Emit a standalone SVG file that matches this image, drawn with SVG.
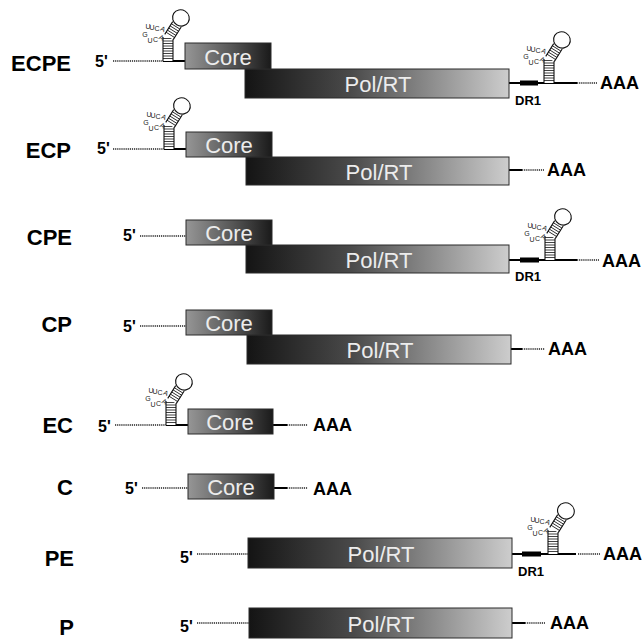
<svg xmlns="http://www.w3.org/2000/svg" xmlns:xlink="http://www.w3.org/1999/xlink" width="644" height="640" viewBox="0 0 644 640">
  <style>
    .lbl { font-family: "Liberation Sans", Arial, sans-serif; font-weight: bold; font-size: 22px; fill: #000; text-anchor: end; }
    .five { font-family: "Liberation Sans", Arial, sans-serif; font-weight: bold; font-size: 16px; fill: #000; }
    .aaa { font-family: "Liberation Sans", Arial, sans-serif; font-weight: bold; font-size: 18px; fill: #000; }
    .dr1 { font-family: "Liberation Sans", Arial, sans-serif; font-weight: bold; font-size: 13px; fill: #000; }
    .boxtxt { font-family: "Liberation Sans", Arial, sans-serif; font-size: 22px; fill: #ececec; text-anchor: middle; }
    .core { fill: url(#gCore); stroke: #2a2a2a; stroke-width: 1; }
    .pol { fill: url(#gPol); stroke: #2a2a2a; stroke-width: 1; }
    .solid { stroke: #000; stroke-width: 2; fill: none; }
    .dots { stroke: #222; stroke-width: 1.6; stroke-dasharray: 1.2 0.9; fill: none; }
    .drbox { fill: #000; }
    .rail { stroke: #111; stroke-width: 1.1; fill: none; }
    .rung { stroke: #111; stroke-width: 0.8; fill: none; }
    .nt { font-family: "Liberation Sans", Arial, sans-serif; font-size: 7px; fill: #222; text-anchor: middle; }
  </style>
  <defs>
    <linearGradient id="gCore" x1="0" y1="0" x2="1" y2="0">
      <stop offset="0" stop-color="#969696"/>
      <stop offset="0.55" stop-color="#555"/>
      <stop offset="1" stop-color="#1a1a1a"/>
    </linearGradient>
    <linearGradient id="gPol" x1="0" y1="0" x2="1" y2="0">
      <stop offset="0" stop-color="#141414"/>
      <stop offset="0.4" stop-color="#4a4a4a"/>
      <stop offset="1" stop-color="#cdcdcd"/>
    </linearGradient>
    <!-- encapsidation stem-loop; origin = left foot of the stem on the RNA line -->
    <g id="eps">
      <rect x="0" y="-24" width="10" height="24" fill="#fff"/>
      <path class="rung" d="M0,-2.5h10M0,-5h10M0,-7.5h10M0,-10h10M0,-12.5h10M0,-15h10M0,-17.5h10M0,-20h10M0,-22.5h10"/>
      <path class="rail" d="M0,0V-24M10,0V-24"/>
      <g transform="translate(6,-24) rotate(32)">
        <rect x="-5" y="-15" width="10" height="15" fill="#fff"/>
        <path class="rung" d="M-5,-2.5h10M-5,-5h10M-5,-7.5h10M-5,-10h10M-5,-12.5h10"/>
        <path class="rail" d="M-5,0V-15M5,0V-15"/>
        <ellipse cx="0" cy="-22.5" rx="8.5" ry="8" fill="#fff" stroke="#111" stroke-width="1.1"/>
      </g>
      <text class="nt" x="-18" y="-24.5">G</text>
      <text class="nt" x="-15" y="-32.5" font-size="6">U</text>
      <text class="nt" x="-11" y="-31.5">U</text>
      <text class="nt" x="-6" y="-30.5">C</text>
      <text class="nt" x="0" y="-29.5" transform="rotate(25,0,-32)">A</text>
      <text class="nt" x="-13" y="-18.5">U</text>
      <text class="nt" x="-7.5" y="-19.5">C</text>
      <text class="nt" x="-1.5" y="-21" transform="rotate(25,-1.5,-23.5)">A</text>
    </g>
  </defs>

  <rect width="644" height="640" fill="#fff"/>

  <!-- RNA lines: dotted untranslated stretches and solid flanks -->
  <g id="rna">
    <!-- ECPE -->
    <path class="dots" d="M113,61H163"/>
    <path class="solid" d="M163,61H185"/>
    <path class="solid" d="M509,83H577"/>
    <path class="dots" d="M577,83H597"/>
    <!-- ECP -->
    <path class="dots" d="M113,149H164"/>
    <path class="solid" d="M164,149H186"/>
    <path class="solid" d="M509,170H522"/>
    <path class="dots" d="M522,170H544"/>
    <!-- CPE -->
    <path class="dots" d="M140,236H186"/>
    <path class="solid" d="M509,260H577"/>
    <path class="dots" d="M577,260H599"/>
    <!-- CP -->
    <path class="dots" d="M140,326H186"/>
    <path class="solid" d="M511,349H522"/>
    <path class="dots" d="M522,349H545"/>
    <!-- EC -->
    <path class="dots" d="M115,425H166"/>
    <path class="solid" d="M166,425H188"/>
    <path class="solid" d="M273,425H287"/>
    <path class="dots" d="M287,425H308"/>
    <!-- C -->
    <path class="dots" d="M142,488H188"/>
    <path class="solid" d="M274,488H287"/>
    <path class="dots" d="M287,488H308"/>
    <!-- PE -->
    <path class="dots" d="M197,554H248"/>
    <path class="solid" d="M512,554H576"/>
    <path class="dots" d="M578,554H600"/>
    <!-- P -->
    <path class="dots" d="M197,623H249"/>
    <path class="solid" d="M512,623H525"/>
    <path class="dots" d="M525,623H545"/>
  </g>

  <g id="row-ECPE">
    <text class="lbl" x="71" y="71">ECPE</text>
    <text class="five" x="95" y="67">5'</text>
    <use xlink:href="#eps" x="163" y="61"/>
    <rect class="pol" x="245" y="69" width="264" height="29"/>
    <text class="boxtxt" x="378" y="92" font-size="23">Pol/RT</text>
    <rect class="core" x="185" y="43" width="86" height="26"/>
    <text class="boxtxt" x="228" y="65">Core</text>
    <rect class="drbox" x="520" y="80.5" width="18" height="5"/>
    <text class="dr1" x="515" y="105">DR1</text>
    <use xlink:href="#eps" x="544" y="83"/>
    <text class="aaa" x="600" y="89">AAA</text>
  </g>

  <g id="row-ECP">
    <text class="lbl" x="71" y="158">ECP</text>
    <text class="five" x="97" y="154">5'</text>
    <use xlink:href="#eps" x="164" y="149"/>
    <rect class="pol" x="246" y="157" width="263" height="28"/>
    <text class="boxtxt" x="379" y="180" font-size="23">Pol/RT</text>
    <rect class="core" x="186" y="132" width="86" height="25"/>
    <text class="boxtxt" x="229" y="153">Core</text>
    <text class="aaa" x="547" y="176">AAA</text>
  </g>

  <g id="row-CPE">
    <text class="lbl" x="72" y="245">CPE</text>
    <text class="five" x="123" y="241">5'</text>
    <rect class="pol" x="246" y="245" width="263" height="28"/>
    <text class="boxtxt" x="379" y="268" font-size="23">Pol/RT</text>
    <rect class="core" x="186" y="220" width="86" height="25"/>
    <text class="boxtxt" x="229" y="241">Core</text>
    <rect class="drbox" x="520" y="257.5" width="19" height="5"/>
    <text class="dr1" x="515" y="281">DR1</text>
    <use xlink:href="#eps" x="545" y="260"/>
    <text class="aaa" x="602" y="267">AAA</text>
  </g>

  <g id="row-CP">
    <text class="lbl" x="72" y="332">CP</text>
    <text class="five" x="123" y="332">5'</text>
    <rect class="pol" x="247" y="335" width="264" height="29"/>
    <text class="boxtxt" x="380" y="358" font-size="23">Pol/RT</text>
    <rect class="core" x="186" y="310" width="86" height="25"/>
    <text class="boxtxt" x="229" y="331">Core</text>
    <text class="aaa" x="548" y="355">AAA</text>
  </g>

  <g id="row-EC">
    <text class="lbl" x="73" y="433">EC</text>
    <text class="five" x="98" y="432">5'</text>
    <use xlink:href="#eps" x="166" y="425"/>
    <rect class="core" x="188" y="409" width="85" height="25"/>
    <text class="boxtxt" x="230" y="430">Core</text>
    <text class="aaa" x="313" y="431">AAA</text>
  </g>

  <g id="row-C">
    <text class="lbl" x="73" y="495">C</text>
    <text class="five" x="125" y="494">5'</text>
    <rect class="core" x="188" y="474" width="86" height="25"/>
    <text class="boxtxt" x="231" y="495">Core</text>
    <text class="aaa" x="313" y="495">AAA</text>
  </g>

  <g id="row-PE">
    <text class="lbl" x="74" y="566">PE</text>
    <text class="five" x="180" y="563">5'</text>
    <rect class="pol" x="248" y="538" width="264" height="30"/>
    <text class="boxtxt" x="381" y="562" font-size="23">Pol/RT</text>
    <rect class="drbox" x="522" y="551.5" width="19" height="5"/>
    <text class="dr1" x="518" y="576">DR1</text>
    <use xlink:href="#eps" x="548" y="554"/>
    <text class="aaa" x="603" y="560">AAA</text>
  </g>

  <g id="row-P">
    <text class="lbl" x="74" y="635">P</text>
    <text class="five" x="180" y="632">5'</text>
    <rect class="pol" x="249" y="608" width="263" height="30"/>
    <text class="boxtxt" x="381" y="632" font-size="23">Pol/RT</text>
    <text class="aaa" x="550" y="629">AAA</text>
  </g>
</svg>
